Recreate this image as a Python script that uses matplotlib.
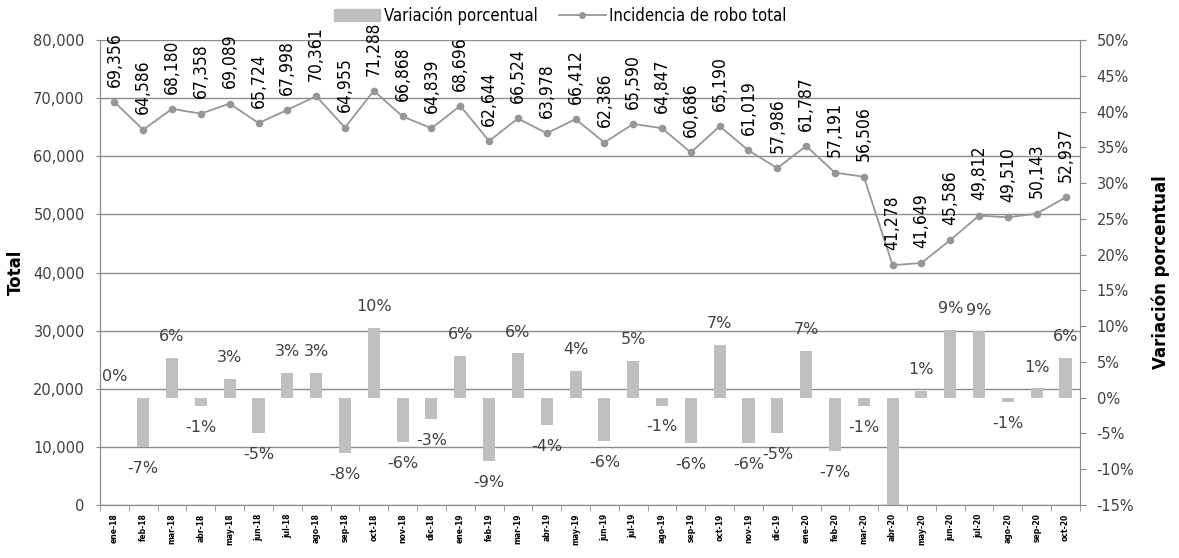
import numpy as np
import matplotlib.pyplot as plt
from matplotlib.ticker import FuncFormatter, MultipleLocator
from matplotlib.patches import Patch
from matplotlib.lines import Line2D

# -------------------------
# datos
# -------------------------
meses = ["ene-18", "feb-18", "mar-18", "abr-18", "may-18", "jun-18", "jul-18", "ago-18",
         "sep-18", "oct-18", "nov-18", "dic-18",
         "ene-19", "feb-19", "mar-19", "abr-19", "may-19", "jun-19", "jul-19", "ago-19",
         "sep-19", "oct-19", "nov-19", "dic-19",
         "ene-20", "feb-20", "mar-20", "abr-20", "may-20", "jun-20", "jul-20", "ago-20",
         "sep-20", "oct-20"]

robo_total = [69356, 64586, 68180, 67358, 69089, 65724, 67998, 70361, 64955, 71288, 66868, 64839,
              68696, 62644, 66524, 63978, 66412, 62386, 65590, 64847, 60686, 65190, 61019, 57986,
              61787, 57191, 56506, 41278, 41649, 45586, 49812, 49510, 50143, 52937]

variacion = [0.0, -6.9, 5.6, -1.2, 2.6, -4.9, 3.46, 3.48, -7.7, 9.7, -6.2, -3.0,
             5.9, -8.8, 6.2, -3.8, 3.8, -6.1, 5.1, -1.1, -6.4, 7.4, -6.4, -5.0,
             6.6, -7.4, -1.2, -26.9, 0.9, 9.45, 9.27, -0.6, 1.3, 5.6]

x = np.arange(len(meses))

# -------------------------
# figura
# -------------------------
fig = plt.figure(figsize=(11.79, 5.58), dpi=100)
ax = fig.add_axes([0.0848, 0.095, 0.8312, 0.833])
ax2 = ax.twinx()

grid_c = "#8c8c8c"
txt_c = "#404040"
narrow = {"family": "DejaVu Sans", "stretch": "condensed"}

# eje izquierdo: total
ax.set_ylim(0, 80000)
ax.yaxis.set_major_locator(MultipleLocator(10000))
ax.yaxis.set_major_formatter(FuncFormatter(lambda v, p: f"{v:,.0f}"))
ax.grid(axis="y", color=grid_c, lw=1.0)
ax.set_axisbelow(True)

ax.plot(x, robo_total, color="#969696", lw=1.3, marker="o", ms=4.5, zorder=3)
for xi, v in zip(x, robo_total):
    ax.annotate(f"{v:,}", (xi, v), xytext=(0, 11), textcoords="offset points",
                rotation=90, ha="center", va="bottom", fontsize=12.5,
                color="black", annotation_clip=False, **narrow)

# eje derecho: variacion
ax2.set_ylim(-15, 50)
ax2.yaxis.set_major_locator(MultipleLocator(5))
ax2.yaxis.set_major_formatter(FuncFormatter(lambda v, p: f"{v:.0f}%"))
ax2.bar(x, variacion, width=0.42, color="#bfbfbf", zorder=2)
for xi, v in zip(x, variacion):
    if v < -15:
        continue
    off = 10 if v >= 0 else -10
    ax2.annotate(f"{v:.0f}%", (xi, v), xytext=(0, off), textcoords="offset points",
                 ha="center", va="bottom" if v >= 0 else "top",
                 fontsize=11.5, color=txt_c)

ax.set_xlim(-0.5, len(meses) - 0.5)
ax.set_xticks(x)
ax.set_xticklabels(meses, rotation=90, fontsize=5.5, fontweight="bold")
ax.set_xticks(np.arange(-0.5, len(meses)), minor=True)
ax.tick_params(axis="x", which="major", length=0, pad=6)
ax.tick_params(axis="x", which="minor", length=4, color=grid_c)
ax.tick_params(axis="y", length=3, color=grid_c, labelsize=10.5, labelcolor=txt_c, pad=8)
ax2.tick_params(axis="y", length=4, color=grid_c, labelsize=10.5, labelcolor=txt_c, pad=8)

for a in (ax, ax2):
    a.spines["top"].set_visible(False)
    a.spines["left"].set_color(grid_c)
    a.spines["right"].set_color(grid_c)
    a.spines["bottom"].set_color(grid_c)

ax.set_ylabel("Total", fontsize=12, fontweight="bold", labelpad=6)
ax2.set_ylabel("Variación porcentual", fontsize=12, fontweight="bold", labelpad=12)

# leyenda
handles = [Patch(color="#bfbfbf"),
           Line2D([0], [0], color="#969696", lw=1.3, marker="o", ms=4)]
fig.legend(handles, ["Variación porcentual", "Incidencia de robo total"],
           loc="center", bbox_to_anchor=(0.475, 0.972), ncol=2, frameon=False,
           prop={"family": "DejaVu Sans", "stretch": "condensed", "size": 12},
           handlelength=2.8, handletextpad=0.2, columnspacing=1.3)

fig.savefig("out.png", dpi=100)
